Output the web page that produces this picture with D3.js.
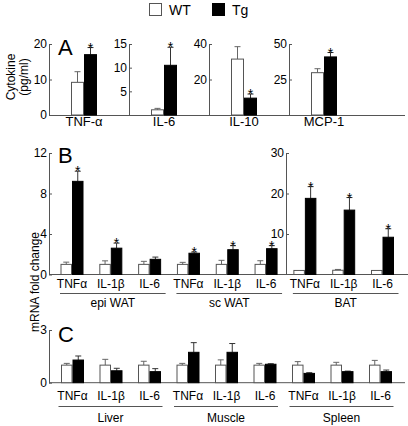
<!DOCTYPE html>
<html><head><meta charset="utf-8">
<script src="https://cdn.jsdelivr.net/npm/d3@7"></script>
<style>body{margin:0;background:#fff}svg text{font-family:"Liberation Sans",Arial,Helvetica,sans-serif}</style>
</head><body><svg id="c" width="408" height="426" font-family="Liberation Sans, Arial, sans-serif"></svg>
<script>
// ---------- DATA ----------
const legendLabels = ["WT", "Tg"];

// Panel A: serum cytokines (pg/ml)
const aCats = ["TNF-α", "IL-6", "IL-10", "MCP-1"];
const aWT = [9.2, 1.1, 31.5, 29.8];
const aWTErr = [3.0, 0.3, 7.0, 2.8];
const aTg = [17.0, 10.5, 9.5, 40.9];
const aTgErr = [2.0, 3.8, 2.3, 3.1];
const aSig = [true, true, true, true];
const aMax = [20, 15, 40, 50];
const aTicks = [[0, 10, 20], [5, 10, 15], [20, 40], [25, 50]];

// Panel B: adipose mRNA fold change
const bGroups = ["epi WAT", "sc WAT", "BAT"];
const genes = ["TNFα", "IL-1β", "IL-6"];
const bWT = [1.0, 1.0, 1.0, 1.0, 1.0, 1.0, 1.0, 1.05, 1.0];
const bWTErr = [0.22, 0.35, 0.3, 0.2, 0.4, 0.36, 0.0, 0.2, 0.0];
const bTg = [9.2, 2.6, 1.5, 2.1, 2.45, 2.55, 18.8, 15.9, 9.2];
const bTgErr = [1.0, 0.5, 0.22, 0.12, 0.4, 0.3, 2.9, 3.1, 2.1];
const bSig = [true, true, false, true, true, true, true, true, true];
const bLeftTicks = [0, 4, 8, 12];
const bRightTicks = [10, 20, 30];

// Panel C: other tissues mRNA fold change
const cGroups = ["Liver", "Muscle", "Spleen"];
const cWT = [1.0, 1.0, 1.0, 1.0, 1.0, 1.0, 1.0, 1.0, 1.0];
const cWTErr = [0.1, 0.33, 0.22, 0.1, 0.3, 0.1, 0.2, 0.16, 0.27];
const cTg = [1.29, 0.68, 0.63, 1.73, 1.73, 1.05, 0.53, 0.63, 0.63];
const cTgErr = [0.23, 0.14, 0.17, 0.55, 0.5, 0.03, 0.04, 0.03, 0.09];
const cTicks = [0, 3];

// ---------- DRAW ----------
const FONT = '"Liberation Sans", Arial, Helvetica, sans-serif';
const svg = d3.select("#c");
const AX = "#555";

function txt(sel) { return sel.attr("font-family", FONT).attr("fill", "#000"); }

function drawAxis(x, y, ticks) {
  const ax = d3.axisLeft(y).tickValues(ticks).tickSizeInner(-3).tickSizeOuter(0)
    .tickPadding(2).tickFormat(d3.format("d"));
  const g = svg.append("g").attr("transform", `translate(${x},0)`).call(ax);
  g.attr("font-family", FONT);
  g.select(".domain").attr("stroke", AX);
  g.selectAll(".tick line").attr("stroke", AX);
  txt(g.selectAll(".tick text")).attr("font-size", 12);
}

function drawBars(rows, bw) {
  const g = svg.append("g");
  const bars = [];
  rows.forEach(r => {
    bars.push({x: r.c - bw, v: r.wt, e: r.wtErr, y: r.y, fill: "#fff", stroke: "#555"});
    bars.push({x: r.c, v: r.tg, e: r.tgErr, y: r.y, fill: "#000", stroke: "#000", sig: r.sig});
  });
  g.selectAll("line.err").data(bars.filter(b => b.e > 0)).join("line")
    .attr("x1", b => b.x + bw / 2).attr("x2", b => b.x + bw / 2)
    .attr("y1", b => b.y(b.v)).attr("y2", b => b.y(b.v + b.e))
    .attr("stroke", b => b.fill === "#fff" ? "#666" : "#333").attr("stroke-width", 1);
  g.selectAll("line.cap").data(bars.filter(b => b.e > 0)).join("line")
    .attr("x1", b => b.x + bw / 2 - 3).attr("x2", b => b.x + bw / 2 + 3)
    .attr("y1", b => b.y(b.v + b.e)).attr("y2", b => b.y(b.v + b.e))
    .attr("stroke", b => b.fill === "#fff" ? "#666" : "#333").attr("stroke-width", 1);
  g.selectAll("rect").data(bars).join("rect")
    .attr("x", b => b.x + 0.5).attr("width", bw - 1)
    .attr("y", b => b.y(b.v)).attr("height", b => b.y(0) - b.y(b.v))
    .attr("fill", b => b.fill).attr("stroke", b => b.stroke).attr("stroke-width", 1);
  txt(g.selectAll("text.star").data(bars.filter(b => b.sig)).join("text"))
    .attr("x", b => b.x + bw / 2).attr("y", b => b.y(b.v + b.e) + 5)
    .attr("text-anchor", "middle").attr("font-size", 14).text("*");
}

function baseline(y0, x1, x2) {
  svg.append("line").attr("x1", x1).attr("x2", x2).attr("y1", y0).attr("y2", y0)
    .attr("stroke", AX).attr("stroke-width", 1);
}

function letter(t, x, y) {
  txt(svg.append("text")).attr("x", x).attr("y", y).attr("font-size", 22).text(t);
}

// Legend
const lg = svg.append("g");
[[149, "#fff", legendLabels[0]], [212, "#000", legendLabels[1]]].forEach(([x, f, t]) => {
  lg.append("rect").attr("x", x + 0.5).attr("y", 3.5).attr("width", 12).attr("height", 12)
    .attr("fill", f).attr("stroke", f === "#fff" ? "#555" : "#000");
  txt(lg.append("text")).attr("x", x + 20).attr("y", 15).attr("font-size", 14).text(t);
});

// ---- Panel A ----
const aBand = d3.scaleBand().domain(aCats).range([49, 369]);
const aY = aMax.map(m => d3.scaleLinear().domain([0, m]).range([115, 44]));
baseline(115.5, 49, 405);
aCats.forEach((c, i) => drawAxis(aBand(c), aY[i], aTicks[i]));
drawBars(aCats.map((c, i) => ({c: aBand(c) + 35, wt: aWT[i], wtErr: aWTErr[i], tg: aTg[i],
  tgErr: aTgErr[i], sig: aSig[i], y: aY[i]})), 13);
txt(svg.append("g").selectAll("text").data(aCats).join("text"))
  .attr("x", c => aBand(c) + 35).attr("y", 126).attr("text-anchor", "middle")
  .attr("font-size", 13).text(c => c);
letter("A", 58, 55);
const at = txt(svg.append("text")).attr("transform", "translate(15,77) rotate(-90)")
  .attr("text-anchor", "middle").attr("font-size", 12);
at.append("tspan").attr("x", 0).attr("dy", 0).text("Cytokine");
at.append("tspan").attr("x", 0).attr("dy", 13).text("(pg/ml)");

// ---- Panel B ----
const bKeys = bGroups.flatMap(g => genes.map(ge => g + "|" + ge));
const bX = d3.scalePoint().domain(bKeys).range([72, 382.5]);
const bYL = d3.scaleLinear().domain([0, 12]).range([274.5, 153]);
const bYR = d3.scaleLinear().domain([0, 30]).range([274.5, 153]);
baseline(274.5, 49, 408);
drawAxis(49, bYL, bLeftTicks);
drawAxis(286, bYR, bRightTicks);
drawBars(bKeys.map((k, i) => ({c: bX(k), wt: bWT[i], wtErr: bWTErr[i], tg: bTg[i], tgErr: bTgErr[i],
  sig: bSig[i], y: i >= 6 ? bYR : bYL})), 11.5);
txt(svg.append("g").selectAll("text").data(bKeys).join("text"))
  .attr("x", k => bX(k)).attr("y", 288).attr("text-anchor", "middle").attr("font-size", 12)
  .text(k => k.split("|")[1]);
bGroups.forEach((g, gi) => {
  const x1 = bX(bKeys[gi * 3]) - 12, x2 = bX(bKeys[gi * 3 + 2]) + 16;
  svg.append("line").attr("x1", x1).attr("x2", x2).attr("y1", 293.5).attr("y2", 293.5)
    .attr("stroke", AX);
  txt(svg.append("text")).attr("x", (x1 + x2) / 2).attr("y", 306.5).attr("text-anchor", "middle")
    .attr("font-size", 12).text(g);
});
letter("B", 58, 163);
txt(svg.append("text")).attr("transform", "translate(39,282) rotate(-90)").attr("text-anchor", "middle")
  .attr("font-size", 12).text("mRNA fold change");

// ---- Panel C ----
const cKeys = cGroups.flatMap(g => genes.map(ge => g + "|" + ge));
const cX = d3.scalePoint().domain(cKeys).range([72.5, 380.5]);
const cY = d3.scaleLinear().domain([0, 3]).range([382.7, 330]);
baseline(382.7, 49, 405);
drawAxis(49, cY, cTicks);
drawBars(cKeys.map((k, i) => ({c: cX(k), wt: cWT[i], wtErr: cWTErr[i], tg: cTg[i], tgErr: cTgErr[i],
  sig: false, y: cY})), 11.5);
txt(svg.append("g").selectAll("text").data(cKeys).join("text"))
  .attr("x", k => cX(k)).attr("y", 400).attr("text-anchor", "middle").attr("font-size", 12)
  .text(k => k.split("|")[1]);
cGroups.forEach((g, gi) => {
  const x1 = cX(cKeys[gi * 3]) - 14, x2 = cX(cKeys[gi * 3 + 2]) + 13;
  svg.append("line").attr("x1", x1).attr("x2", x2).attr("y1", 406.5).attr("y2", 406.5)
    .attr("stroke", AX);
  txt(svg.append("text")).attr("x", (x1 + x2) / 2).attr("y", 421.5).attr("text-anchor", "middle")
    .attr("font-size", 12).text(g);
});
letter("C", 58, 341.5);
</script></body></html>
